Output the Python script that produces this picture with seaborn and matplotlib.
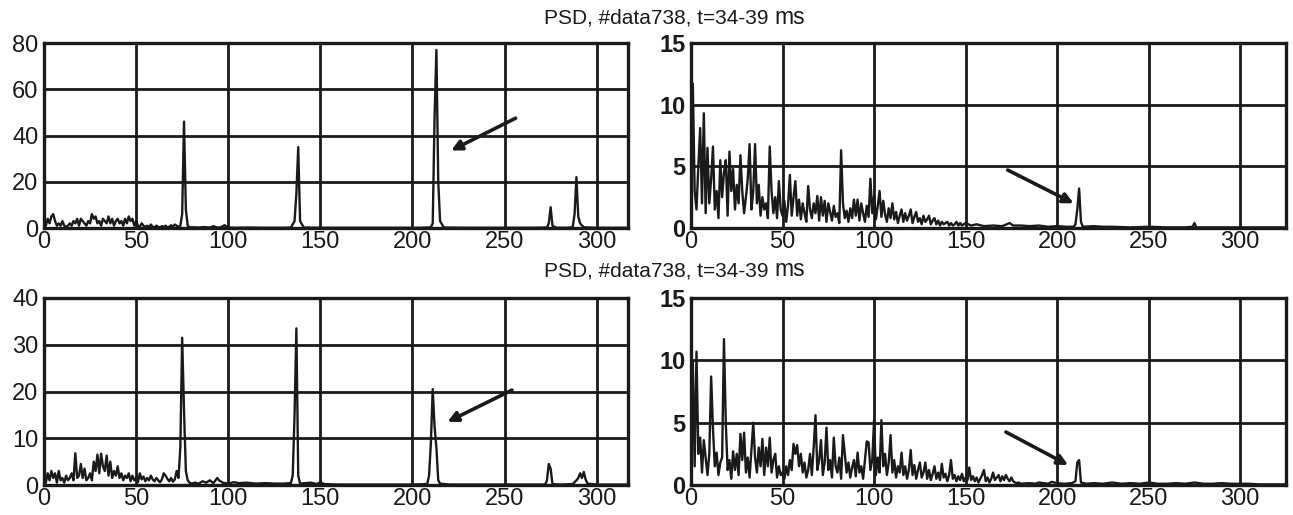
import numpy as np
import pandas as pd
import matplotlib
matplotlib.use("Agg")
import matplotlib.pyplot as plt
import seaborn as sns
from matplotlib import font_manager

# ---------------- data ----------------
TITLE = "PSD, #data738, t=34-39"
TITLE_UNIT = "ms"

# Top-left panel (0..80)
tl_freq = list(range(0, 80)) + [81, 84, 87, 90, 92, 94, 96, 98, 100, 104, 110, 120, 130, 134,
                                136, 137, 138, 139, 141, 150, 170, 190, 205, 210, 211, 212, 213,
                                214, 215, 217, 230, 250, 265, 273, 274, 275, 276, 278, 285, 287,
                                288, 289, 290, 291, 293, 300, 310, 318]
tl_psd = [3, 1, 4, 2, 5, 6, 3, 1, 2, 1,
          3, 1, 0.5, 1, 2, 1, 3, 2, 4, 1,
          4, 3, 2, 1, 3, 2, 6, 4, 5, 2,
          3, 1, 4, 3, 2, 5, 2, 4, 1, 3,
          4, 2, 3, 1, 4, 2, 5, 3, 4, 1,
          3, 1, 0.5, 2, 1, 0.5, 1, 0.3, 1.5, 0.5,
          0.3, 1, 0.5, 0.3, 0.8, 0.5, 1, 0.3, 0.5, 1.2,
          0.5, 1.5, 1, 0.5, 1, 6, 46, 8, 1, 0.3] + \
         [0.3, 0.2, 0.4, 0.2, 0.8, 0.2, 0.3, 1.2, 0.2, 0.1, 0.2, 0.1, 0.1, 0.2,
          3, 15, 35, 3, 0.2, 0.1, 0.1, 0.1, 0.1, 0.3, 2, 48, 77,
          20, 3, 0.2, 0.1, 0.1, 0.1, 0.2, 2, 9, 1, 0.1, 0.1, 0.5,
          6, 22, 5, 2, 0.3, 0.1, 0.1, 0.1]

# Top-right panel (0..15)
tr_freq = list(range(0, 151)) + [153, 156, 160, 165, 170, 174, 176, 180, 185, 190, 195, 200, 205,
                                 209, 210, 211, 212, 213, 214, 220, 225, 230, 240, 250, 260, 270,
                                 274, 275, 276, 290, 310, 325]
tr_psd = [10, 11.7, 3, 1.5, 5, 8.1, 2, 9.3, 1.2, 6.5,
          2, 4, 6.6, 1.5, 3, 0.8, 5.5, 2.5, 4.5, 5.5,
          1, 6.2, 3, 4.8, 1.5, 3.5, 2.0, 5.9, 3, 1.2,
          2.5, 4, 6.8, 1.5, 3, 6.8, 2, 3.5, 1.0, 2.5,
          1.5, 2, 0.8, 6.6, 3, 1.2, 2.5, 0.8, 3.8, 1.5,
          1.0, 2.2, 0.5, 1.8, 4.3, 1.0, 2.5, 3.8, 1.0, 2.3,
          0.7, 2.0, 1.2, 0.5, 3.4, 1.5, 0.8, 2.0, 1.2, 2.6,
          0.6, 2.5, 1.0, 2.2, 0.5, 2.0, 1.3, 0.6, 1.8, 0.9,
          1.2, 0.4, 6.3, 2.0, 0.8, 1.4, 0.5, 1.6, 0.8, 2.3,
          1.0, 2.3, 0.6, 2.0, 1.2, 0.5, 1.8, 0.9, 4.0, 1.2,
          2.6, 0.7, 1.8, 3.0, 0.9, 2.2, 1.1, 0.5, 1.6, 0.8,
          2.0, 0.7, 1.3, 0.4, 1.0, 1.5, 0.5, 1.2, 0.6, 1.0,
          1.5, 0.4, 0.9, 1.3, 0.5, 0.8, 0.3, 1.0, 0.5, 0.7,
          1.0, 0.3, 0.6, 0.8, 0.3, 0.6, 0.2, 0.5, 0.3, 0.4,
          0.5, 0.2, 0.4, 0.2, 0.3, 0.5, 0.2, 0.4, 0.2, 0.3,
          0.4] + \
         [0.2, 0.3, 0.15, 0.2, 0.15, 0.4, 0.2, 0.2, 0.15, 0.2, 0.1, 0.15, 0.1,
          0.1, 0.3, 1.5, 3.2, 0.5, 0.1, 0.15, 0.1, 0.1, 0.05, 0.1, 0.05, 0.05,
          0.1, 0.4, 0.05, 0.05, 0.05, 0.05]

# Bottom-left panel (0..40)
bl_freq = list(range(0, 81)) + [82, 84, 86, 88, 90, 92, 94, 95, 97, 100, 103, 106, 110, 115, 120,
                                125, 130, 134, 135, 136, 137, 138, 139, 145, 148, 150, 152, 160,
                                180, 200, 208, 209, 210, 211, 212, 213, 214, 215, 220, 250, 272,
                                273, 274, 275, 276, 280, 287, 289, 290, 291, 292, 293, 294, 295,
                                300, 318]
bl_psd = [2, 0.5, 2.5, 1, 3, 1.5, 2.5, 0.5, 3, 1,
          1.5, 0.5, 2, 1, 1.5, 2.5, 1, 6.8, 1.5, 2,
          4.5, 1.5, 3.5, 1, 1.5, 2.5, 1, 5, 3, 6.5,
          2.5, 6.7, 4, 3, 6.3, 2, 5, 1.5, 3, 2,
          4, 1.5, 2.5, 1, 2, 1.5, 2.5, 0.8, 2, 1,
          1.5, 0.6, 2.5, 1.2, 1.8, 0.8, 1.5, 1, 2, 1.2,
          0.8, 1.5, 1, 0.6, 1.2, 2.5, 2, 1.3, 0.8, 1.5,
          0.7, 1.2, 3, 1.5, 8, 31.5, 16, 3, 1, 0.5,
          0.3] + \
         [0.5, 0.3, 0.8, 0.5, 1.0, 0.4, 1.5, 1.0, 0.5, 0.3, 0.6, 0.4, 0.5, 0.3, 0.4,
          0.3, 0.3, 0.4, 2, 15, 33.5, 2, 0.3, 0.5, 0.2, 0.6, 0.2, 0.1,
          0.1, 0.1, 0.2, 2, 9, 20.5, 12.5, 8, 1, 0.3, 0.1, 0.1, 0.1,
          1, 4.5, 3.5, 0.2, 0.1, 0.2, 1, 1.5, 2.5, 1.5, 2.8, 1.2, 0.3,
          0.1, 0.1]

# Bottom-right panel (0..15)
br_freq = list(range(0, 181)) + [185, 188, 190, 195, 197, 200, 204, 208, 210, 211, 212, 213, 216,
                                 220, 225, 230, 235, 240, 245, 250, 255, 260, 265, 270, 275, 280,
                                 285, 290, 295, 300, 305, 310, 325]
br_psd = [3.5, 9.9, 1.5, 10.7, 2.5, 3.8, 1.0, 3.6, 2.2, 0.8,
          2.5, 8.7, 4.5, 1.5, 2.6, 0.8, 1.8, 2.2, 11.7, 5.0,
          1.2, 2.0, 0.5, 2.7, 1.2, 2.5, 0.8, 4.1, 2.0, 4.2,
          1.0, 2.2, 0.6, 2.8, 5.0, 2.2, 1.0, 3.0, 1.5, 3.7,
          0.8, 3.0, 1.5, 3.8, 1.0, 2.0, 2.5, 0.6, 1.5, 0.8,
          1.0, 0.5, 1.5, 0.8, 2.0, 1.2, 3.3, 2.5, 3.2, 1.5,
          2.5, 1.0, 1.8, 0.6, 1.2, 2.5, 0.8, 3.0, 5.6, 1.2,
          2.0, 3.6, 0.8, 1.8, 4.6, 1.2, 2.0, 0.6, 3.8, 1.5,
          1.0, 2.2, 0.5, 4.0, 2.5, 1.0, 1.8, 0.6, 1.4, 2.0,
          0.7, 2.6, 1.0, 1.5, 0.5, 2.0, 3.5, 3.4, 1.2, 2.0,
          5.2, 0.8, 2.2, 1.0, 5.2, 1.5, 2.5, 0.8, 1.8, 4.0,
          1.0, 2.0, 0.6, 1.5, 1.0, 2.6, 0.8, 1.5, 0.5, 1.2,
          2.8, 0.8, 1.6, 0.5, 1.2, 1.8, 0.6, 1.0, 1.8, 0.5,
          1.2, 0.4, 0.9, 1.5, 0.5, 1.0, 0.4, 1.7, 0.6, 0.9,
          0.3, 0.8, 2.0, 0.5, 0.8, 0.3, 0.7, 0.4, 0.9, 0.3,
          0.6, 0.4, 1.4, 0.4, 0.7, 0.3, 0.6, 0.2, 0.5, 0.8,
          1.2, 0.3, 0.6, 0.2, 0.5, 1.0, 0.4, 0.6, 0.8, 0.3,
          0.7, 0.4, 0.8, 0.5, 0.3, 0.6, 0.3, 0.2, 0.15, 0.2,
          0.1] + \
         [0.15, 0.1, 0.2, 0.1, 0.25, 0.15, 0.1, 0.15, 0.3, 1.8, 2.0, 0.2, 0.1,
          0.15, 0.1, 0.2, 0.1, 0.15, 0.1, 0.2, 0.1, 0.1, 0.15, 0.1, 0.2, 0.1,
          0.1, 0.15, 0.1, 0.1, 0.1, 0.05, 0.05]

# arrows: (tail, head) in data coordinates
tl_arrow = ((256, 47.5), (221, 33.5))
tr_arrow = ((173, 4.7), (209, 2.0))
bl_arrow = ((254, 20.3), (219, 13.5))
br_arrow = ((172, 4.25), (206, 1.6))

# ---------------- styling ----------------
sns.set_style("white")
avail = {f.name for f in font_manager.fontManager.ttflist}
narrow = "Liberation Sans Narrow" if "Liberation Sans Narrow" in avail else "Liberation Sans"
plt.rcParams["font.family"] = [narrow, "DejaVu Sans"]

W, H = 1293, 515
fig = plt.figure(figsize=(W / 100, H / 100), dpi=100)


def px_axes(left, right, top, bottom):
    return fig.add_axes([left / W, 1 - bottom / H, (right - left) / W, (bottom - top) / H])


panels = [
    dict(box=(44, 628, 43, 228), f=tl_freq, p=tl_psd, xlim=317, ylim=80, yt=[0, 20, 40, 60, 80],
         bold=False, arrow=tl_arrow),
    dict(box=(691, 1286, 43, 228), f=tr_freq, p=tr_psd, xlim=325, ylim=15, yt=[0, 5, 10, 15],
         bold=True, arrow=tr_arrow),
    dict(box=(44, 628, 298, 485), f=bl_freq, p=bl_psd, xlim=317, ylim=40, yt=[0, 10, 20, 30, 40],
         bold=False, arrow=bl_arrow),
    dict(box=(691, 1286, 298, 485), f=br_freq, p=br_psd, xlim=325, ylim=15, yt=[0, 5, 10, 15],
         bold=True, arrow=br_arrow),
]

for P in panels:
    ax = px_axes(*P["box"])
    df = pd.DataFrame({"freq": P["f"], "psd": P["p"]})
    sns.lineplot(data=df, x="freq", y="psd", ax=ax, color="#1a1a1a", linewidth=1.7,
                 estimator=None, sort=False)
    ax.set_xlim(0, P["xlim"])
    ax.set_ylim(0, P["ylim"])
    ax.set_xticks([0, 50, 100, 150, 200, 250, 300])
    ax.set_yticks(P["yt"])
    ax.set_xlabel("")
    ax.set_ylabel("")
    ax.grid(True, color="#1a1a1a", linewidth=2.0)
    ax.set_axisbelow(True)
    for s in ax.spines.values():
        s.set_color("#1a1a1a")
        s.set_linewidth(2.4)
    ax.tick_params(axis="both", length=0, labelsize=17, colors="#1a1a1a")
    ax.tick_params(axis="x", pad=2)
    ax.tick_params(axis="y", pad=4)
    if P["bold"]:
        for t in ax.get_yticklabels():
            t.set_fontweight("bold")
    (x0, y0), (x1, y1) = P["arrow"]
    ax.annotate("", xy=(x1, y1), xytext=(x0, y0),
                arrowprops=dict(arrowstyle="-|>,head_length=0.6,head_width=0.3",
                                color="#1a1a1a", lw=2.6, shrinkA=0, shrinkB=0))

for ty in (18, 271):
    fig.text(769 / W, 1 - ty / H, TITLE, ha="right", va="center", fontsize=15,
             family=["Liberation Sans", "DejaVu Sans"], color="#1a1a1a")
    fig.text(774 / W, 1 - (ty - 1) / H, TITLE_UNIT, ha="left", va="center", fontsize=16.5,
             family=[narrow, "DejaVu Sans"], color="#1a1a1a")

fig.savefig("out.png", dpi=100)
